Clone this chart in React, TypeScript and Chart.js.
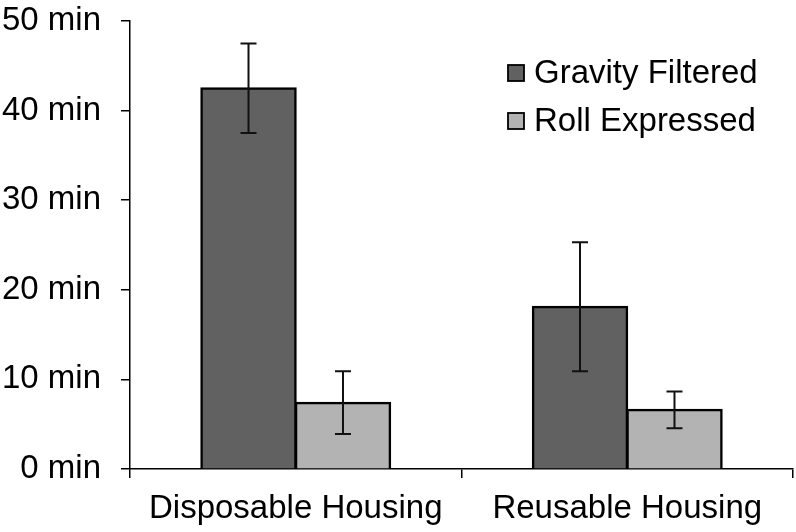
import React, { useEffect, useRef } from "react";
import { Chart, registerables } from "chart.js";

Chart.register(...registerables);

const categories = ["Disposable Housing", "Reusable Housing"];
const seriesNames = ["Gravity Filtered", "Roll Expressed"];
const gravityValues = [42.5, 18.1];
const rollValues = [7.4, 6.6];
const gravityErrors = [5.0, 7.2];
const rollErrors = [3.5, 2.05];
const yTicks = [0, 10, 20, 30, 40, 50];

const FONT = "'Liberation Sans', Arial, sans-serif";
const FSIZE = 33;
const colors = ["#616161", "#b3b3b3"];

const errorBarPlugin = {
  id: "errorBars",
  afterDatasetsDraw(chart: any) {
    const ctx = chart.ctx;
    const y = chart.scales.y;
    const errs = [gravityErrors, rollErrors];
    ctx.save();
    ctx.strokeStyle = "#111";
    ctx.lineWidth = 2;
    chart.data.datasets.forEach((ds: any, di: number) => {
      const meta = chart.getDatasetMeta(di);
      meta.data.forEach((bar: any, i: number) => {
        const v = ds.data[i];
        const e = errs[di][i];
        const x = bar.x;
        const yt = y.getPixelForValue(v + e);
        const yb = y.getPixelForValue(v - e);
        ctx.beginPath();
        ctx.moveTo(x, yt);
        ctx.lineTo(x, yb);
        ctx.moveTo(x - 8, yt);
        ctx.lineTo(x + 8, yt);
        ctx.moveTo(x - 8, yb);
        ctx.lineTo(x + 8, yb);
        ctx.stroke();
      });
    });
    ctx.restore();
  },
};

const legendPlugin = {
  id: "customLegend",
  afterDraw(chart: any) {
    const ctx = chart.ctx;
    ctx.save();
    const rows = [73, 121];
    seriesNames.forEach((name, i) => {
      const cy = rows[i];
      ctx.fillStyle = colors[i];
      ctx.fillRect(508, cy - 8, 16, 16);
      ctx.strokeStyle = "#000";
      ctx.lineWidth = 1.8;
      ctx.strokeRect(508, cy - 8, 16, 16);
      ctx.fillStyle = "#000";
      ctx.font = `${FSIZE}px ${FONT}`;
      ctx.textBaseline = "middle";
      ctx.textAlign = "left";
      ctx.fillText(name, 534, cy + 1);
    });
    ctx.restore();
  },
};

export default function App() {
  const ref = useRef<HTMLCanvasElement | null>(null);
  useEffect(() => {
    document.body.style.margin = "0";
    const canvas = ref.current!;
    const chart = new Chart(canvas, {
      type: "bar",
      data: {
        labels: categories,
        datasets: [
          {
            label: seriesNames[0],
            data: gravityValues,
            backgroundColor: colors[0],
            borderColor: "#000",
            borderWidth: 2.5,
            inflateAmount: 1,
            categoryPercentage: 0.57,
            barPercentage: 1,
          },
          {
            label: seriesNames[1],
            data: rollValues,
            backgroundColor: colors[1],
            borderColor: "#000",
            borderWidth: 2.5,
            inflateAmount: 1,
            categoryPercentage: 0.57,
            barPercentage: 1,
          },
        ],
      },
      options: {
        animation: false,
        responsive: false,
        maintainAspectRatio: false,
        layout: { padding: { top: 0, right: 3, left: 0, bottom: 0 } },
        plugins: {
          legend: { display: false },
          tooltip: { enabled: false },
          title: { display: false },
        },
        scales: {
          x: {
            grid: {
              display: true,
              drawOnChartArea: false,
              drawTicks: true,
              tickLength: 9,
              color: "#000",
              lineWidth: 1.5,
              offset: true,
            },
            border: { display: true, color: "#000", width: 1.5 },
            ticks: {
              color: "#000",
              font: { family: FONT, size: FSIZE },
              padding: 11,
              maxRotation: 0,
            },
            afterFit: (s: any) => {
              s.height = 63;
            },
          },
          y: {
            min: 0,
            max: 50,
            afterBuildTicks: (s: any) => {
              s.ticks = yTicks.map((v) => ({ value: v }));
            },
            grid: {
              display: true,
              drawOnChartArea: false,
              drawTicks: true,
              tickLength: 9,
              color: "#000",
              lineWidth: 1.5,
            },
            border: { display: true, color: "#000", width: 1.5 },
            ticks: {
              color: "#000",
              font: { family: FONT, size: FSIZE },
              padding: 20,
              callback: (v: any) => `${v} min`,
            },
            afterFit: (s: any) => {
              s.width = 130;
              s.paddingTop = 21;
              s.paddingBottom = 20;
            },
          },
        },
      },
      plugins: [errorBarPlugin, legendPlugin],
    });
    return () => chart.destroy();
  }, []);
  return (
    <div style={{ position: "absolute", left: 0, top: 0, width: 796, height: 532 }}>
      <canvas ref={ref} width={796} height={532} style={{ width: 796, height: 532 }} />
    </div>
  );
}
